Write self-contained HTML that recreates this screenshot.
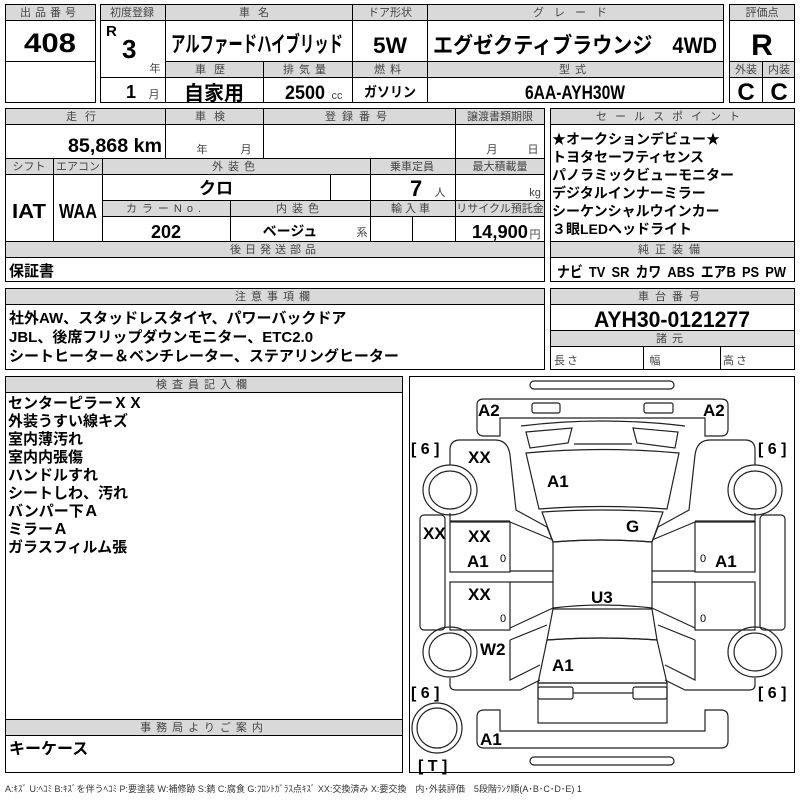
<!DOCTYPE html>
<html><head><meta charset="utf-8"><style>
html,body{margin:0;padding:0;background:#fff;}
svg{display:block;}
.h{fill:#444;font-size:11px;font-family:"Liberation Sans","Noto Sans CJK JP",sans-serif;text-anchor:middle;letter-spacing:1px;}
.b{font-family:"Liberation Sans","Noto Sans CJK JP",sans-serif;font-weight:bold;fill:#000;}
.j{font-family:"Liberation Sans","Noto Sans CJK JP",sans-serif;font-weight:bold;fill:#000;}
.m{text-anchor:middle;}
.g{fill:#d9d9d9;stroke:#000;stroke-width:1;}
.f{fill:none;stroke:#000;stroke-width:1;}
.d{fill:none;stroke:#222;stroke-width:1.2;}
</style></head><body>
<svg width="800" height="800" viewBox="0 0 800 800" xmlns="http://www.w3.org/2000/svg">
<!-- box 1 -->
<rect class="f" x="5.5" y="4.5" width="90" height="98"/>
<rect class="g" x="5.5" y="4.5" width="90" height="16"/>
<line class="f" x1="5" y1="61.5" x2="95" y2="61.5"/>
<text class="h" x="50" y="16" style="letter-spacing:4px">出品番号</text>
<text class="b m" x="50" y="52" font-size="27" textLength="52" lengthAdjust="spacingAndGlyphs">408</text>
<!-- box 2 -->
<rect class="f" x="100.5" y="4.5" width="623" height="98"/>
<rect class="g" x="100.5" y="4.5" width="623" height="16"/>
<rect class="g" x="165.5" y="61.5" width="558" height="16"/>
<line class="f" x1="165.5" y1="4" x2="165.5" y2="102"/>
<line class="f" x1="352.5" y1="4" x2="352.5" y2="102"/>
<line class="f" x1="427.5" y1="4" x2="427.5" y2="102"/>
<line class="f" x1="263.5" y1="61" x2="263.5" y2="102"/>
<line class="f" x1="100" y1="77.5" x2="165" y2="77.5"/>
<text class="h" x="132" y="16" style="letter-spacing:0">初度登録</text>
<text class="h" x="258" y="16" style="letter-spacing:8px">車名</text>
<text class="h" x="390" y="16" style="letter-spacing:0">ドア形状</text>
<text class="h" x="575" y="16" style="letter-spacing:10px">グレード</text>
<text class="h" x="214" y="73" style="letter-spacing:8px">車歴</text>
<text class="h" x="307" y="73" style="letter-spacing:5px">排気量</text>
<text class="h" x="390" y="73" style="letter-spacing:5px">燃料</text>
<text class="h" x="575" y="73" style="letter-spacing:5px">型式</text>
<text class="b" x="106" y="36" font-size="15">R</text>
<text class="b" x="122" y="58" font-size="26">3</text>
<text class="h" x="155" y="72" style="letter-spacing:0">年</text>
<text class="b" x="126" y="98" font-size="18">1</text>
<text class="h" x="154" y="98" style="letter-spacing:0">月</text>
<text class="b" x="171" y="52" font-size="22" textLength="172" lengthAdjust="spacingAndGlyphs">アルファードハイブリッド</text>
<text class="b m" x="390" y="53" font-size="22" textLength="34" lengthAdjust="spacingAndGlyphs">5W</text>
<text class="b" x="433" y="53" font-size="22" textLength="284" lengthAdjust="spacingAndGlyphs">エグゼクティブラウンジ　4WD</text>
<text class="j m" x="214" y="100" font-size="20">自家用</text>
<text class="b" x="285" y="99" font-size="19" textLength="40" lengthAdjust="spacingAndGlyphs">2500</text>
<text class="h" x="337" y="99" style="letter-spacing:0">cc</text>
<text class="b m" x="390" y="97" font-size="14" textLength="52" lengthAdjust="spacingAndGlyphs">ガソリン</text>
<text class="b m" x="575" y="99" font-size="19" textLength="100" lengthAdjust="spacingAndGlyphs">6AA-AYH30W</text>
<!-- eval -->
<rect class="f" x="729.5" y="4.5" width="65" height="98"/>
<rect class="g" x="729.5" y="4.5" width="65" height="16"/>
<rect class="g" x="729.5" y="61.5" width="65" height="16"/>
<line class="f" x1="762.5" y1="61" x2="762.5" y2="102"/>
<text class="h" x="762" y="16" style="letter-spacing:0">評価点</text>
<text class="h" x="746" y="73" style="letter-spacing:0">外装</text>
<text class="h" x="779" y="73" style="letter-spacing:0">内装</text>
<text class="b m" x="762" y="55" font-size="30">R</text>
<text class="b m" x="746" y="100" font-size="24">C</text>
<text class="b m" x="779" y="100" font-size="24">C</text>
<!-- section 2 -->
<rect class="f" x="5.5" y="108.5" width="539" height="173"/>
<rect class="g" x="5.5" y="108.5" width="539" height="16"/>
<rect class="g" x="5.5" y="158.5" width="539" height="16"/>
<rect class="g" x="102.5" y="200.5" width="442" height="16"/>
<rect class="g" x="5.5" y="241.5" width="539" height="16"/>
<line class="f" x1="165.5" y1="108" x2="165.5" y2="158"/>
<line class="f" x1="263.5" y1="108" x2="263.5" y2="158"/>
<line class="f" x1="455.5" y1="108" x2="455.5" y2="241"/>
<line class="f" x1="53.5" y1="158" x2="53.5" y2="241"/>
<line class="f" x1="102.5" y1="158" x2="102.5" y2="241"/>
<line class="f" x1="370.5" y1="158" x2="370.5" y2="241"/>
<line class="f" x1="330.5" y1="174" x2="330.5" y2="200"/>
<line class="f" x1="230.5" y1="200" x2="230.5" y2="241"/>
<line class="f" x1="412.5" y1="216" x2="412.5" y2="241"/>
<text class="h" x="85" y="120" style="letter-spacing:8px">走行</text>
<text class="h" x="214" y="120" style="letter-spacing:8px">車検</text>
<text class="h" x="359" y="120" style="letter-spacing:6px">登録番号</text>
<text class="h" x="500" y="120" style="letter-spacing:0">譲渡書類期限</text>
<text class="b" x="68" y="152" font-size="19" textLength="94" lengthAdjust="spacingAndGlyphs">85,868 km</text>
<text class="h" x="202" y="153" style="letter-spacing:0">年</text>
<text class="h" x="246" y="153" style="letter-spacing:0">月</text>
<text class="h" x="492" y="153" style="letter-spacing:0">月</text>
<text class="h" x="533" y="153" style="letter-spacing:0">日</text>
<text class="h" x="29" y="170" style="letter-spacing:0">シフト</text>
<text class="h" x="78" y="170" style="letter-spacing:0">エアコン</text>
<text class="h" x="236" y="170" style="letter-spacing:5px">外装色</text>
<text class="h" x="412" y="170" style="letter-spacing:0">乗車定員</text>
<text class="h" x="500" y="170" style="letter-spacing:0" font-size="10">最大積載量</text>
<text class="b m" x="216" y="194" font-size="17">クロ</text>
<text class="b" x="410" y="196" font-size="22">7</text>
<text class="h" x="440" y="196" style="letter-spacing:0">人</text>
<text class="h" x="535" y="196" style="letter-spacing:0">kg</text>
<text class="b m" x="29" y="218" font-size="20" textLength="34" lengthAdjust="spacingAndGlyphs">IAT</text>
<text class="b m" x="78" y="218" font-size="20" textLength="38" lengthAdjust="spacingAndGlyphs">WAA</text>
<text class="h" x="166" y="212" style="letter-spacing:5px">カラーNo.</text>
<text class="h" x="300" y="212" style="letter-spacing:5px">内装色</text>
<text class="h" x="412" y="212" style="letter-spacing:3px">輸入車</text>
<text class="h" x="500" y="212" style="letter-spacing:0" font-size="10">リサイクル預託金</text>
<text class="b m" x="166" y="238" font-size="18">202</text>
<text class="b m" x="290" y="236" font-size="14">ベージュ</text>
<text class="h" x="362" y="236" style="letter-spacing:0">系</text>
<text class="b" x="472" y="238" font-size="18" textLength="56" lengthAdjust="spacingAndGlyphs">14,900</text>
<text class="h" x="535" y="238" style="letter-spacing:0">円</text>
<text class="h" x="275" y="253" style="letter-spacing:4px">後日発送部品</text>
<text class="j" x="9" y="276" font-size="15">保証書</text>
<!-- sales point -->
<rect class="f" x="550.5" y="108.5" width="244" height="173"/>
<rect class="g" x="550.5" y="108.5" width="244" height="16"/>
<rect class="g" x="550.5" y="241.5" width="244" height="16"/>
<text class="h" x="672" y="120" style="letter-spacing:8px">セールスポイント</text>
<g class="j" font-size="14">
<text x="552" y="144">★オークションデビュー★</text>
<text x="552" y="162">トヨタセーフティセンス</text>
<text x="552" y="180">パノラミックビューモニター</text>
<text x="552" y="198">デジタルインナーミラー</text>
<text x="552" y="216">シーケンシャルウインカー</text>
<text x="552" y="234">３眼LEDヘッドライト</text>
</g>
<text class="h" x="672" y="253" style="letter-spacing:6px">純正装備</text>
<text class="b" x="557" y="277" font-size="15" textLength="229" lengthAdjust="spacingAndGlyphs" word-spacing="3">ナビ TV SR カワ ABS エアB PS PW</text>
<!-- notes -->
<rect class="f" x="5.5" y="288.5" width="539" height="81"/>
<rect class="g" x="5.5" y="288.5" width="539" height="16"/>
<text class="h" x="275" y="300" style="letter-spacing:5px">注意事項欄</text>
<g class="j" font-size="15">
<text x="9" y="323">社外AW、スタッドレスタイヤ、パワーバックドア</text>
<text x="9" y="342">JBL、後席フリップダウンモニター、ETC2.0</text>
<text x="9" y="361">シートヒーター＆ベンチレーター、ステアリングヒーター</text>
</g>
<!-- chassis -->
<rect class="f" x="550.5" y="288.5" width="244" height="81"/>
<rect class="g" x="550.5" y="288.5" width="244" height="16"/>
<rect class="g" x="550.5" y="330.5" width="244" height="16"/>
<line class="f" x1="643.5" y1="346" x2="643.5" y2="370"/>
<line class="f" x1="720.5" y1="346" x2="720.5" y2="370"/>
<text class="h" x="672" y="300" style="letter-spacing:6px">車台番号</text>
<text class="b m" x="672" y="327" font-size="22" textLength="156" lengthAdjust="spacingAndGlyphs">AYH30-0121277</text>
<text class="h" x="672" y="342" style="letter-spacing:5px">諸元</text>
<text class="h" x="567" y="364" style="letter-spacing:2px">長さ</text>
<text class="h" x="655" y="364" style="letter-spacing:0">幅</text>
<text class="h" x="736" y="364" style="letter-spacing:2px">高さ</text>
<!-- inspector -->
<rect class="f" x="5.5" y="376.5" width="397" height="396"/>
<rect class="g" x="5.5" y="376.5" width="397" height="16"/>
<rect class="g" x="5.5" y="719.5" width="397" height="16"/>
<text class="h" x="204" y="388" style="letter-spacing:5px">検査員記入欄</text>
<g class="j" font-size="15">
<text x="8" y="408">センターピラーＸＸ</text>
<text x="8" y="426">外装うすい線キズ</text>
<text x="8" y="444">室内薄汚れ</text>
<text x="8" y="462">室内内張傷</text>
<text x="8" y="480">ハンドルすれ</text>
<text x="8" y="498">シートしわ、汚れ</text>
<text x="8" y="516">バンパー下Ａ</text>
<text x="8" y="534">ミラーＡ</text>
<text x="8" y="552">ガラスフィルム張</text>
</g>
<text class="h" x="204" y="731" style="letter-spacing:5px">事務局よりご案内</text>
<text class="j" x="9" y="754" font-size="16">キーケース</text>
<!-- diagram -->
<rect class="f" x="409.5" y="376.5" width="385" height="396"/>
<g class="d">
<rect x="530" y="381" width="144" height="8" rx="4"/>
<path d="M500,436 L484,436 Q477,436 477,429 L477,405 Q477,399 484,399 L721,399 Q728,399 728,405 L728,429 Q728,436 721,436 L705,436 L705,418 L500,418 Z"/>
<rect x="532" y="403" width="28" height="10" rx="2"/>
<rect x="644" y="403" width="29" height="10" rx="2"/>
<path d="M521,426 Q602,416 685,426"/>
<path d="M526,432 L572,428 L568,443 L530,448 Z"/>
<path d="M633,428 L678,432 L675,448 L637,443 Z"/>
<path d="M574,444 L632,444"/>
<path d="M526,453 Q602,446 679,453 L667,509 Q602,504 539,509 Z"/>
<path d="M542,512 Q602,508 663,512 L652,542 Q602,538 553,542 Z"/>
<path d="M553,542 Q602,538 652,542 L652,608 Q602,602 553,608 Z"/>
<path d="M553,609 L652,609 L657,640 Q602,636 547,640 Z"/>
<path d="M547,640 Q602,636 657,640 L667,683 L538,683 Z"/>
<rect x="538" y="683" width="129" height="40"/>
<rect x="538" y="687" width="35" height="12" rx="2"/>
<rect x="633" y="687" width="34" height="12" rx="2"/>
<line x1="573" y1="693" x2="633" y2="693"/>
<path d="M500,710 L484,710 Q477,710 477,717 L477,741 Q477,748 484,748 L721,748 Q728,748 728,741 L728,717 Q728,710 721,710 L705,710 L705,731 L500,731 Z"/>
<rect x="530" y="757" width="144" height="8" rx="4"/>
<path d="M450,465 L450,450 Q450,440 460,440 L495,440 Q508,440 510,455 L516,510 L547,527 L553,542"/>
<path d="M450,513 L450,521 L510,521"/>
<rect x="450" y="522" width="60" height="50"/>
<rect x="450" y="582" width="60" height="48"/>
<path d="M510,522 L553,540 M510,571 L553,571 M510,582 L553,582 M510,628 L553,608"/>
<rect x="420" y="515" width="25" height="115" rx="4"/>
<path d="M510,640 L547,625 M510,640 L510,680 L540,665 M450,678 L450,685 Q450,690 456,690 L520,690 L540,680"/>
<path d="M755,465 L755,450 Q755,440 745,440 L710,440 Q697,440 695,455 L689,510 L658,527 L652,542"/>
<path d="M755,513 L755,521 L695,521"/>
<rect x="695" y="522" width="60" height="50"/>
<rect x="695" y="582" width="60" height="48"/>
<path d="M695,522 L652,540 M695,571 L652,571 M695,582 L652,582 M695,628 L652,608"/>
<rect x="760" y="515" width="25" height="115" rx="4"/>
<path d="M695,640 L658,625 M695,640 L695,680 L665,665 M755,678 L755,685 Q755,690 749,690 L685,690 L665,680"/>
<ellipse cx="450" cy="490" rx="27" ry="25"/><ellipse cx="450" cy="490" rx="21" ry="19"/>
<ellipse cx="755" cy="490" rx="27" ry="25"/><ellipse cx="755" cy="490" rx="21" ry="19"/>
<ellipse cx="450" cy="652" rx="27" ry="25"/><ellipse cx="450" cy="652" rx="21" ry="19"/>
<ellipse cx="755" cy="652" rx="27" ry="25"/><ellipse cx="755" cy="652" rx="21" ry="19"/>
<ellipse cx="437" cy="728" rx="25" ry="25"/><ellipse cx="437" cy="728" rx="20" ry="20"/>
</g>
<g class="b" font-size="17">
<text x="478" y="416">A2</text><text x="703" y="416">A2</text>
<text x="468" y="463">XX</text>
<text x="547" y="487">A1</text>
<text x="423" y="539">XX</text>
<text x="626" y="532">G</text>
<text x="468" y="542">XX</text>
<text x="467" y="567">A1</text>
<text x="715" y="567">A1</text>
<text x="468" y="600">XX</text>
<text x="591" y="603">U3</text>
<text x="480" y="655">W2</text>
<text x="552" y="671">A1</text>
<text x="480" y="745">A1</text>
</g>
<g class="b" font-size="16">
<text x="411" y="454">[ 6 ]</text><text x="758" y="454">[ 6 ]</text>
<text x="411" y="698">[ 6 ]</text><text x="758" y="698">[ 6 ]</text>
<text x="418" y="771">[ T ]</text>
</g>
<g fill="#000" font-size="11" font-family="Liberation Sans,sans-serif">
<text x="500" y="562">0</text><text x="700" y="562">0</text>
<text x="500" y="622">0</text><text x="700" y="622">0</text>
</g>
<text x="5" y="792" font-size="9" fill="#333" font-family="Liberation Sans,Noto Sans CJK JP,sans-serif">A:ｷｽﾞ U:ﾍｺﾐ B:ｷｽﾞを伴うﾍｺﾐ P:要塗装 W:補修跡 S:錆 C:腐食 G:ﾌﾛﾝﾄｶﾞﾗｽ点ｷｽﾞ XX:交換済み X:要交換　内･外装評価　5段階ﾗﾝｸ順(A･B･C･D･E) 1</text>
</svg>
</body></html>
